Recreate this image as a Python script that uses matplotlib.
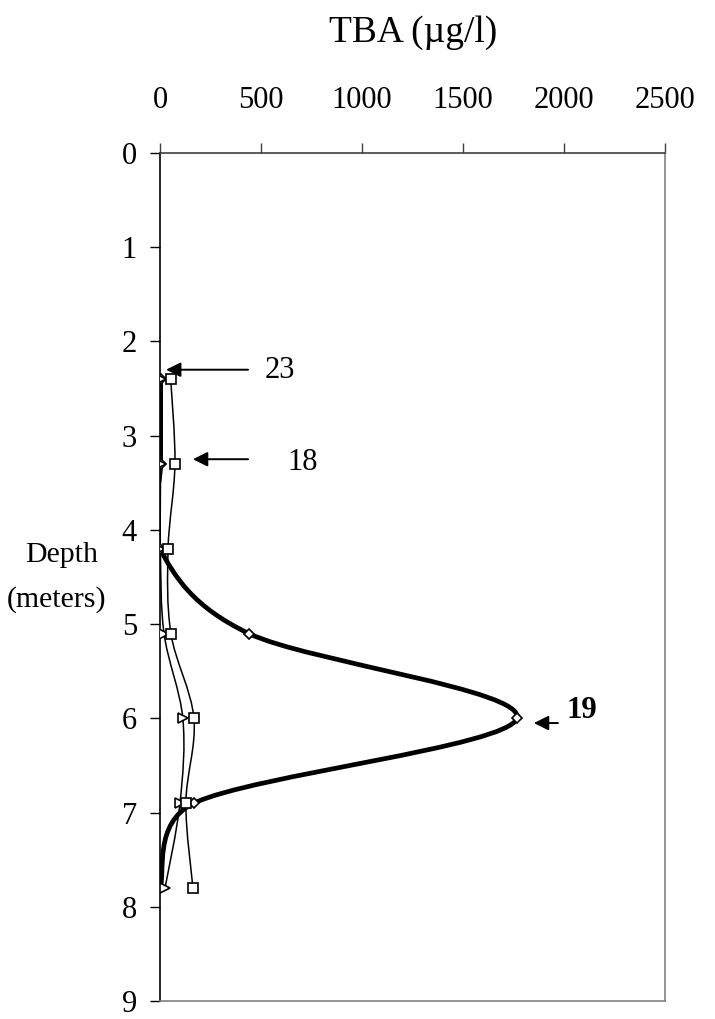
import numpy as np
import matplotlib
matplotlib.use('Agg')
import matplotlib.pyplot as plt
from matplotlib.path import Path
from matplotlib.patches import PathPatch

# ---- data ----
depth = [2.4, 3.3, 4.2, 5.1, 6.0, 6.9, 7.8]
tba_squares = [53, 74, 40, 54, 168, 128, 163]
tba_triangles = [5, 3, 2, 20, 113, 99, 25]
tba_diamonds = [3, 3, 0, 440, 1767, 168, 0]
x_ticks = [0, 500, 1000, 1500, 2000, 2500]
y_ticks = [0, 1, 2, 3, 4, 5, 6, 7, 8, 9]
labels = ["23", "18", "19"]

plt.rcParams['font.family'] = ['Liberation Serif', 'DejaVu Serif']

W, H = 715, 1019
fig = plt.figure(figsize=(W / 100, H / 100), dpi=100)
ax = fig.add_axes([160 / W, 1 - 1001 / H, 505 / W, 848 / H])
ax.set_xlim(x_ticks[0], x_ticks[-1])
ax.set_ylim(y_ticks[-1], y_ticks[0])


def smooth_path(xs, ys):
    """Excel-like smoothed line (Bezier, control arms 1/6 of the chord,
    capped at half the segment length), computed in screen space."""
    P = ax.transData.transform(np.column_stack([xs, ys]).astype(float))
    n = len(P)
    verts = [P[0]]
    codes = [Path.MOVETO]
    for i in range(n - 1):
        p0 = P[i - 1] if i > 0 else P[i]
        p1 = P[i]
        p2 = P[i + 1]
        p3 = P[i + 2] if i + 2 < n else P[i + 1]
        d12 = np.hypot(*(p2 - p1))
        d02 = np.hypot(*(p2 - p0))
        d13 = np.hypot(*(p3 - p1))
        f0 = 1 / 6 if d02 == 0 else min(1 / 6, d12 / (2 * d02))
        f1 = 1 / 6 if d13 == 0 else min(1 / 6, d12 / (2 * d13))
        c1 = p1 + (p2 - p0) * f0
        c2 = p2 - (p3 - p1) * f1
        verts += [c1, c2, p2]
        codes += [Path.CURVE4] * 3
    verts = ax.transData.inverted().transform(np.array(verts))
    return Path(verts, codes)


# thick diamond series line
ax.add_patch(PathPatch(smooth_path(tba_diamonds, depth), fill=False,
                       lw=3.4, edgecolor='black', capstyle='round', zorder=2))
ax.add_patch(PathPatch(smooth_path(tba_triangles, depth), fill=False,
                       lw=1.1, edgecolor='black', zorder=3))
ax.add_patch(PathPatch(smooth_path(tba_squares, depth), fill=False,
                       lw=1.1, edgecolor='black', zorder=3))

ax.plot(tba_diamonds, depth, ls='none', marker='D', ms=5.5, mfc='white',
        mec='black', mew=1.2, zorder=4)
ax.plot(tba_triangles, depth, ls='none', marker='>', ms=7, mfc='white',
        mec='black', mew=1.2, zorder=5)
ax.plot(tba_squares, depth, ls='none', marker='s', ms=6.5, mfc='white',
        mec='black', mew=1.2, zorder=5)

ax.set_xticks(x_ticks)
ax.set_yticks(y_ticks)
ax.xaxis.tick_top()
ax.tick_params(axis='x', direction='out', length=7.5, width=1, pad=20,
               labelsize=22, color='#404040')
ax.tick_params(axis='y', direction='out', length=7.5, width=1, pad=9,
               labelsize=22, color='black')

ax.spines['left'].set_color('black')
ax.spines['top'].set_color('#404040')
ax.spines['right'].set_color('#808080')
ax.spines['bottom'].set_color('#808080')
for s in ax.spines.values():
    s.set_linewidth(1.2)

# annotations
arrow_kw = dict(arrowstyle='-|>', color='black', lw=1.4, mutation_scale=22,
                shrinkA=0, shrinkB=0)
ax.annotate('', xy=(30, 2.30), xytext=(436, 2.30), arrowprops=arrow_kw)
ax.text(520, 2.31, labels[0], fontsize=22, va='center', ha='left')
ax.annotate('', xy=(163, 3.25), xytext=(436, 3.25), arrowprops=arrow_kw)
ax.text(630, 3.28, labels[1], fontsize=22, va='center', ha='left')
ax.annotate('', xy=(1851, 6.05), xytext=(1970, 6.05), arrowprops=arrow_kw)
ax.text(2010, 5.92, labels[2], fontsize=22, fontweight='bold', va='center',
        ha='left')

fig.text(413 / W, 1 - 33 / H, 'TBA (\u00b5g/l)', fontsize=27, ha='center',
         va='center')
fig.text(62 / W, 1 - 555 / H, 'Depth', fontsize=21.5, ha='center', va='center')
fig.text(57 / W, 1 - 600 / H, '(meters)', fontsize=21.5, ha='center',
         va='center')

fig.savefig('out.png', dpi=100)
